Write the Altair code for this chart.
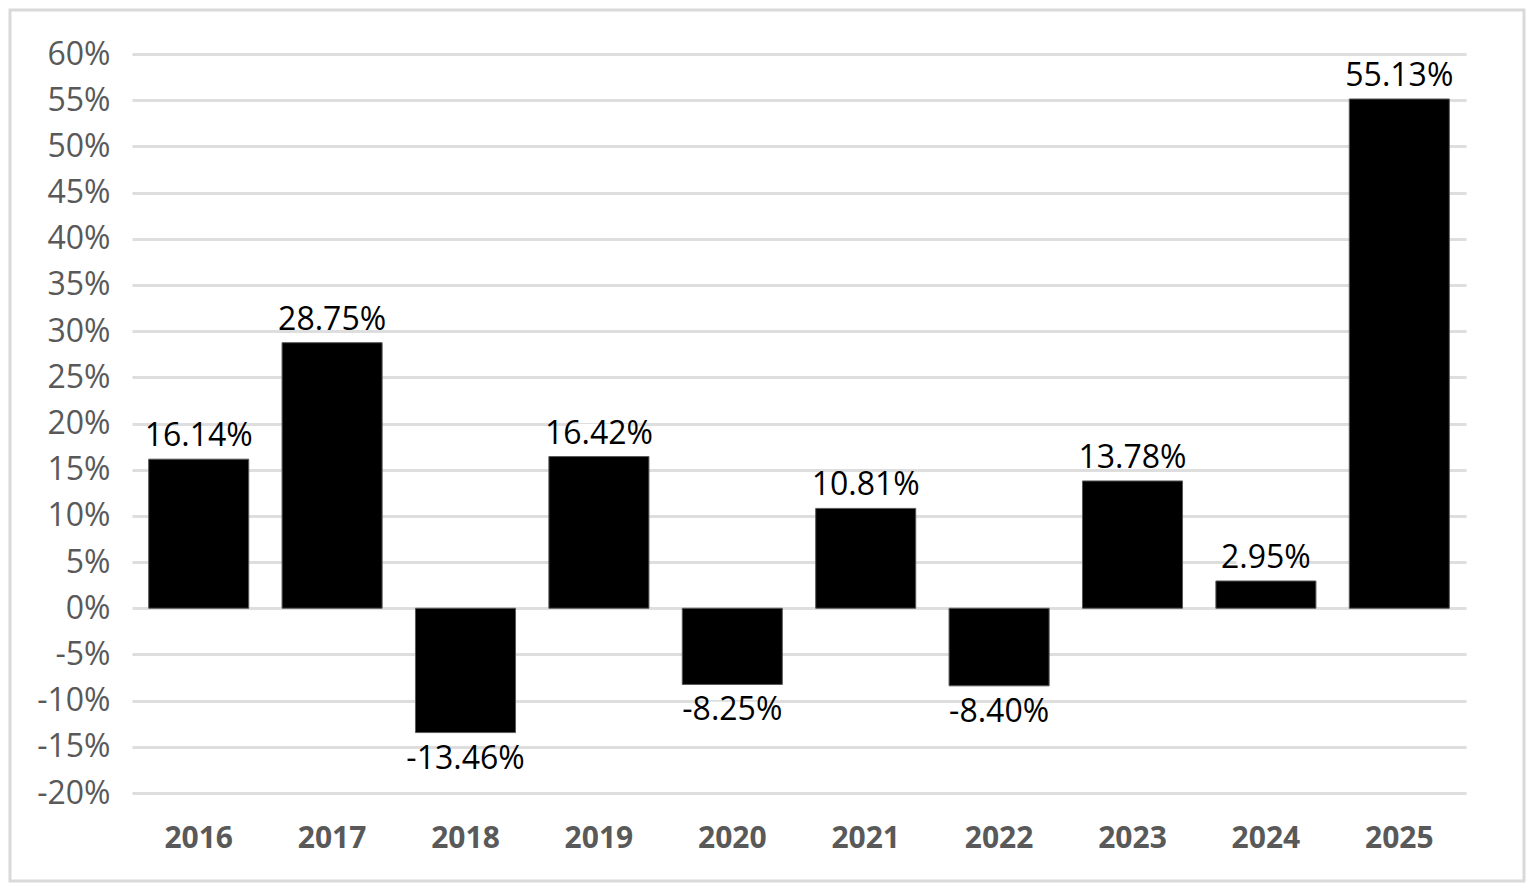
import altair as alt
import pandas as pd

years = ["2016", "2017", "2018", "2019", "2020", "2021", "2022", "2023", "2024", "2025"]
returns = [16.14, 28.75, -13.46, 16.42, -8.25, 10.81, -8.40, 13.78, 2.95, 55.13]
y_ticks = list(range(-20, 61, 5))

df = pd.DataFrame({
    "year": years,
    "value": returns,
    "label": [f"{v:.2f}%" for v in returns],
})

W, H = 1334, 739
FONT = "Open Sans"

x_enc = alt.X("year:N", sort=years, title=None,
              scale=alt.Scale(paddingInner=0.25, paddingOuter=0.125),
              axis=alt.Axis(labelFont=FONT, labelFontSize=30, labelFontWeight="bold",
                            labelColor="#595959", labelAngle=0, labelPadding=30,
                            domain=False, ticks=False, grid=False))
y_enc = alt.Y("value:Q", title=None,
              scale=alt.Scale(domain=[-20, 60], nice=False, zero=False),
              axis=alt.Axis(values=y_ticks, labelExpr="datum.value + '%'",
                            labelFont=FONT, labelFontSize=32, labelColor="#595959",
                            labelPadding=22, domain=False, ticks=False,
                            grid=True, gridColor="#DEDEDE", gridWidth=3))

base = alt.Chart(df)

bars = base.mark_bar(color="black", stroke="#595959", strokeWidth=1).encode(
    x=x_enc, y=y_enc, y2=alt.datum(0)
)

box_shape = "M-0.5,-0.13L0.5,-0.13L0.5,0.13L-0.5,0.13Z"
pos = base.transform_filter("datum.value >= 0")
neg = base.transform_filter("datum.value < 0")

pos_box = pos.mark_point(shape=box_shape, filled=True, fill="white", opacity=1,
                         strokeWidth=0, size=118 * 118, yOffset=-25).encode(
    x=alt.X("year:N", sort=years), y="value:Q")
neg_box = neg.mark_point(shape=box_shape, filled=True, fill="white", opacity=1,
                         strokeWidth=0, size=118 * 118, yOffset=25).encode(
    x=alt.X("year:N", sort=years), y="value:Q")

pos_text = pos.mark_text(font=FONT, fontSize=32, color="black",
                         baseline="alphabetic", dy=-13).encode(
    x=alt.X("year:N", sort=years), y="value:Q", text="label:N")
neg_text = neg.mark_text(font=FONT, fontSize=32, color="black",
                         baseline="alphabetic", dy=36).encode(
    x=alt.X("year:N", sort=years), y="value:Q", text="label:N")

border = alt.Chart(alt.Data(values=[{"b": 1}])).mark_rect(
    fill=None, stroke="#D9D9D9", strokeWidth=3
).encode(
    x=alt.value(-122), x2=alt.value(W + 58),
    y=alt.value(-44), y2=alt.value(H + 88),
)

chart = alt.layer(bars, pos_box, neg_box, pos_text, neg_text, border).properties(
    width=W, height=H,
    autosize=alt.AutoSizeParams(type="none"),
    padding={"left": 124, "top": 46, "right": 60, "bottom": 90},
    background="white",
).configure_view(stroke=None)

chart.save("out.html", embed_options={"renderer": "svg", "actions": False})
